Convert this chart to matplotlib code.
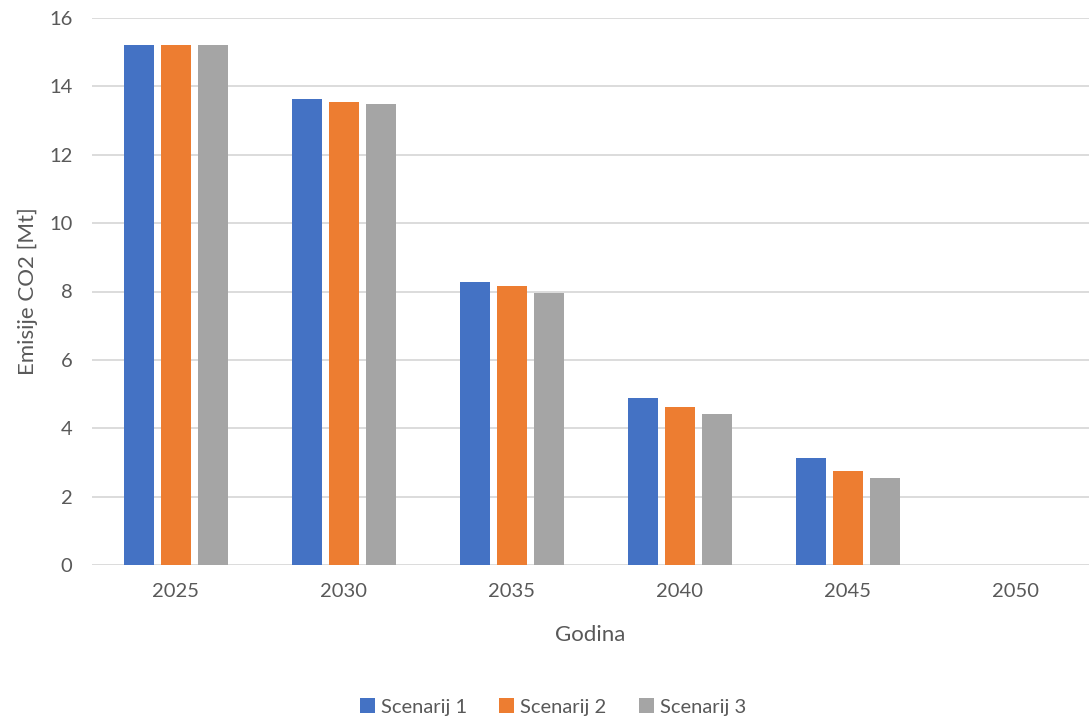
import matplotlib
matplotlib.use("Agg")
import matplotlib.pyplot as plt
import numpy as np

years = ["2025", "2030", "2035", "2040", "2045", "2050"]
scenarij1 = [15.21, 13.62, 8.27, 4.89, 3.12, 0.0]
scenarij2 = [15.21, 13.55, 8.17, 4.62, 2.75, 0.0]
scenarij3 = [15.21, 13.49, 7.96, 4.41, 2.54, 0.0]
series_names = ["Scenarij 1", "Scenarij 2", "Scenarij 3"]
colors = ["#4472C4", "#ED7D31", "#A5A5A5"]

plt.rcParams['font.family'] = ['Lato', 'DejaVu Sans']
text_color = "#595959"

fig = plt.figure(figsize=(10.89, 7.19), dpi=100)
ax = fig.add_axes([92/1089, 1-565/719, 1-92/1089, (565-18)/719])

x = np.arange(len(years))
offset = 0.22
width = 0.178
for i, (vals, name, c) in enumerate(zip([scenarij1, scenarij2, scenarij3], series_names, colors)):
    ax.bar(x + (i-1)*offset, vals, width=width, color=c, label=name, zorder=3)

ax.set_xlim(-0.5, 5.435)
ax.set_ylim(0, 16)
ax.set_yticks(np.arange(0, 17, 2))
ax.set_xticks(x)
ax.set_xticklabels(years)
ax.grid(axis='y', color='#D9D9D9', linewidth=1.3, zorder=0)
ax.set_axisbelow(True)
for s in ax.spines.values():
    s.set_visible(False)
ax.tick_params(axis='both', length=0, labelsize=14.5, colors=text_color)
ax.tick_params(axis='y', pad=14)
ax.tick_params(axis='x', pad=13)

ax.set_xlabel("Godina", fontsize=16, color=text_color, labelpad=18)
ax.set_ylabel("Emisije CO2 [Mt]", fontsize=16, color=text_color, labelpad=8)

handles, labels = ax.get_legend_handles_labels()
fig.legend(handles, labels, loc='center', bbox_to_anchor=(553/1089, 1-707/719),
           ncol=3, frameon=False, fontsize=14.5, labelcolor=text_color,
           handlelength=0.75, handleheight=0.75, handletextpad=0.3, columnspacing=1.6)

fig.savefig("out.png", dpi=100)
